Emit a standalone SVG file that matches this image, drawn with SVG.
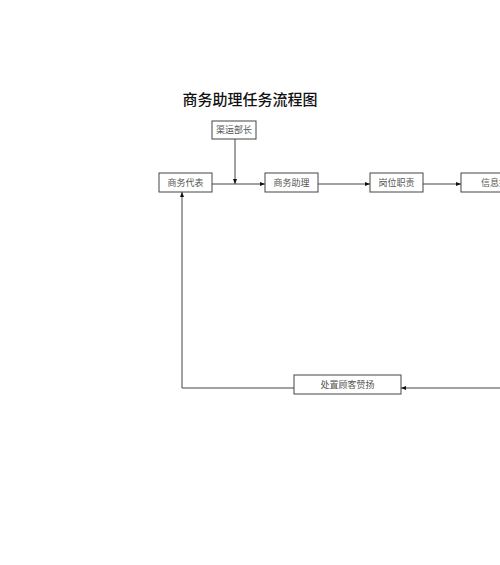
<svg xmlns="http://www.w3.org/2000/svg" width="500" height="565" viewBox="0 0 500 565">
<style>
.box{fill:#fff;stroke:#444;stroke-width:1}
.lbl{font-family:"Liberation Serif","Noto Sans CJK SC",serif;font-size:9px;fill:#555;text-anchor:middle;dominant-baseline:central}
.ln{fill:none;stroke:#444;stroke-width:1}
</style>
<defs>
<marker id="ah" viewBox="0 0 10 10" refX="10" refY="5" markerWidth="5" markerHeight="5" orient="auto">
<path d="M0,1 L10,5 L0,9 z" fill="#111"/>
</marker>
</defs>
<rect width="500" height="565" fill="#fff"/>
<text x="250" y="100" font-family="'Liberation Serif','Noto Sans CJK SC',serif" font-size="15" font-weight="500" fill="#111" text-anchor="middle" dominant-baseline="central">商务助理任务流程图</text>
<g id="connectors">
<path class="ln" d="M235,139 V184" marker-end="url(#ah)"/>
<path class="ln" d="M212,184 H265" marker-end="url(#ah)"/>
<path class="ln" d="M318,184 H370" marker-end="url(#ah)"/>
<path class="ln" d="M423,184 H461" marker-end="url(#ah)"/>
<path class="ln" d="M500,388 H401" marker-end="url(#ah)"/>
<path class="ln" d="M294,388 H182 V192" marker-end="url(#ah)"/>
</g>
<g id="n-qydz"><rect class="box" x="212" y="121" width="44" height="18"/><text class="lbl" x="234" y="130">渠运部长</text></g>
<g id="n-swdb"><rect class="box" x="159" y="173" width="53" height="19"/><text class="lbl" x="185.5" y="182.5">商务代表</text></g>
<g id="n-swzl"><rect class="box" x="265" y="173" width="53" height="19"/><text class="lbl" x="291.5" y="182.5">商务助理</text></g>
<g id="n-gwzz"><rect class="box" x="370" y="173" width="53" height="19"/><text class="lbl" x="396.5" y="182.5">岗位职责</text></g>
<g id="n-xx"><rect class="box" x="461" y="173" width="60" height="19"/><text class="lbl" x="481" y="182.5" style="text-anchor:start">信息报告</text></g>
<g id="n-czgkzy"><rect class="box" x="294" y="375" width="107" height="19"/><text class="lbl" x="347.5" y="384.5">处置顾客赞扬</text></g>
</svg>
